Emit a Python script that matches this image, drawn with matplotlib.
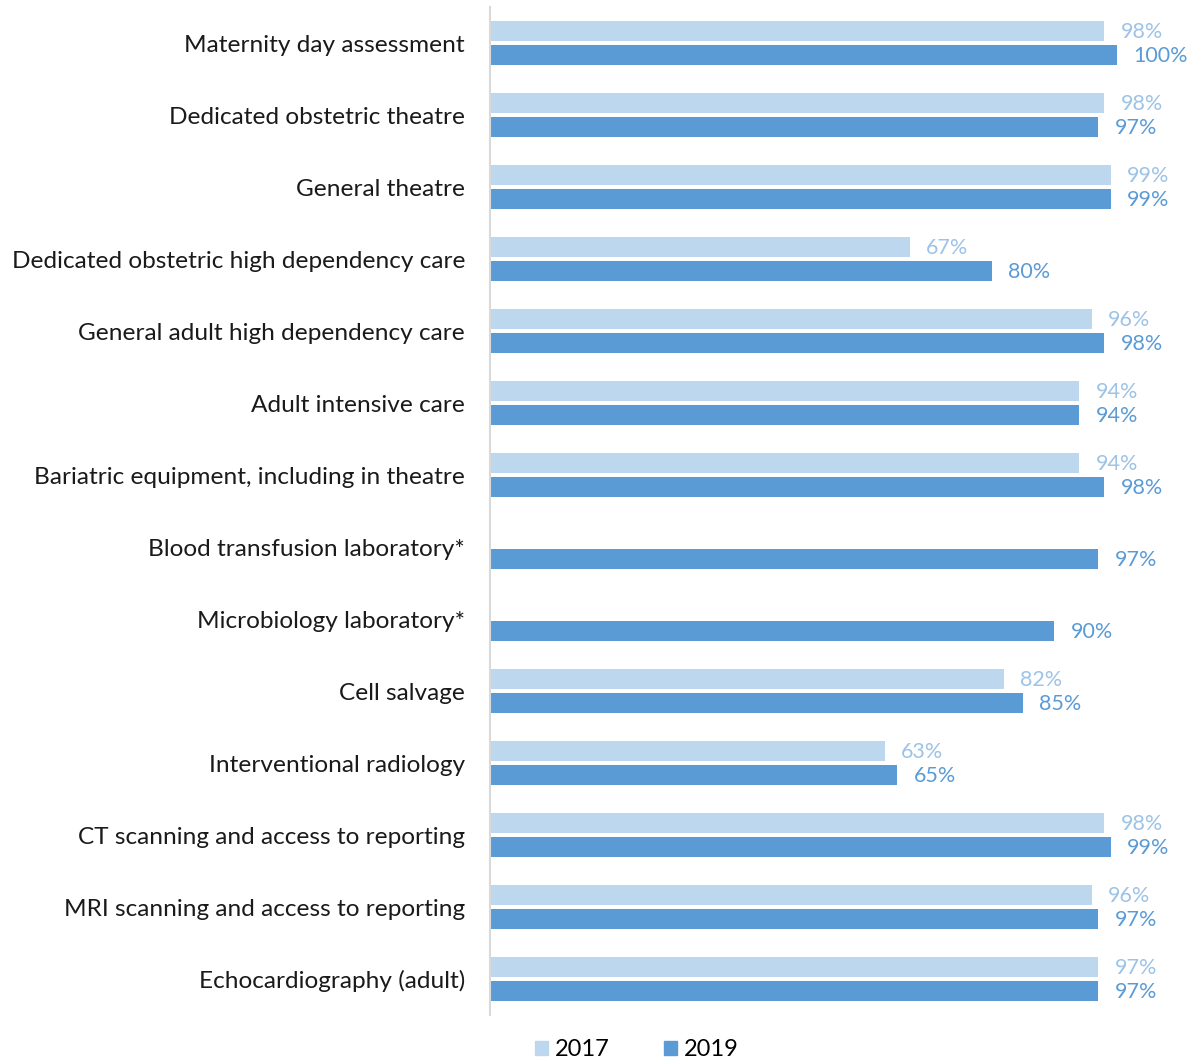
import numpy as np
import matplotlib.pyplot as plt
from matplotlib.patches import Patch

categories = [
    "Maternity day assessment",
    "Dedicated obstetric theatre",
    "General theatre",
    "Dedicated obstetric high dependency care",
    "General adult high dependency care",
    "Adult intensive care",
    "Bariatric equipment, including in theatre",
    "Blood transfusion laboratory*",
    "Microbiology laboratory*",
    "Cell salvage",
    "Interventional radiology",
    "CT scanning and access to reporting",
    "MRI scanning and access to reporting",
    "Echocardiography (adult)",
]
vals_2017 = [98, 98, 99, 67, 96, 94, 94, None, None, 82, 63, 98, 96, 97]
vals_2019 = [100, 97, 99, 80, 98, 94, 98, 97, 90, 85, 65, 99, 97, 97]

c17 = "#BDD7EE"
c19 = "#5B9BD5"
c17_text = "#9DC3E6"

plt.rcParams['font.family'] = ['Lato', 'DejaVu Sans']

fig = plt.figure(figsize=(11.94, 10.62), dpi=100)
ax = fig.add_axes([490 / 1194, 1 - 1015 / 1062, 704 / 1194, 1008 / 1062])

y = np.arange(len(categories))
h = 0.278
off = 0.167

for i, (a, b) in enumerate(zip(vals_2017, vals_2019)):
    if a is not None:
        ax.barh(y[i] - off, a, height=h, color=c17)
        ax.text(a + 2.6, y[i] - off + 0.02, f"{a}%", va='center', ha='left',
                fontsize=15.5, color=c17_text)
    if b is not None:
        ax.barh(y[i] + off, b, height=h, color=c19)
        ax.text(b + 2.6, y[i] + off + 0.02, f"{b}%", va='center', ha='left',
                fontsize=15.5, color=c19)

ax.set_xlim(0, 112.3)
ax.set_ylim(len(categories) - 0.5, -0.5)
ax.set_yticks(y)
ax.set_yticklabels(categories, fontsize=17.6, color="#1a1a1a")
ax.tick_params(axis='y', length=0, pad=18)
ax.set_xticks([])
for s in ['top', 'right', 'bottom']:
    ax.spines[s].set_visible(False)
ax.spines['left'].set_color('#d9d9d9')
ax.spines['left'].set_linewidth(1.5)

handles = [Patch(color=c17, label='2017'), Patch(color=c19, label='2019')]
fig.legend(handles=handles, loc='center', bbox_to_anchor=(637 / 1194, 1 - 1050 / 1062),
           ncol=2, frameon=False, fontsize=17, handlelength=0.55, handleheight=0.55,
           handletextpad=0.3, columnspacing=2.3)

fig.savefig("out.png", dpi=100)
